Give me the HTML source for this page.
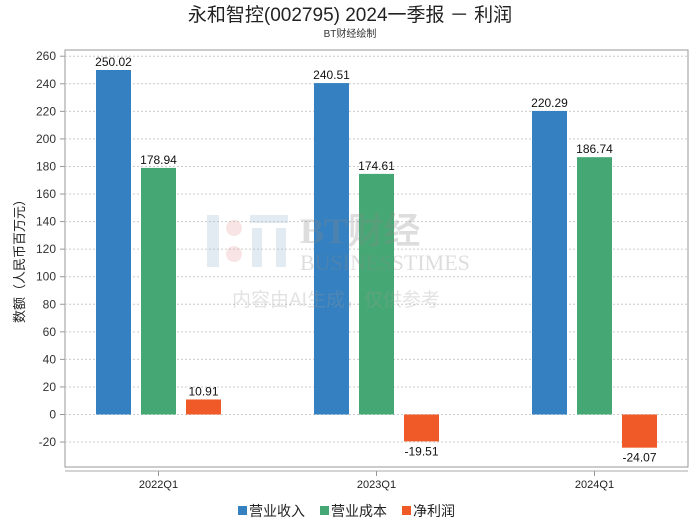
<!DOCTYPE html>
<html><head><meta charset="utf-8"><style>
html,body{margin:0;padding:0;background:#fff;}
svg{display:block;font-family:"Liberation Sans","Noto Sans CJK SC",sans-serif;}
</style></head><body>
<svg id="c" width="700" height="524" viewBox="0 0 700 524">
<text x="350" y="21" text-anchor="middle" font-size="19" fill="#222">永和智控(002795) 2024一季报 － 利润</text>
<text x="350" y="37" text-anchor="middle" font-size="10" fill="#333">BT财经绘制</text>
<rect x="65" y="50" width="623" height="417" fill="none" stroke="#999" stroke-width="1"/>
<line x1="65" y1="471" x2="688" y2="471" stroke="#aaa"/>
<g id="grid"></g><g id="bars"></g>
<g id="wm" opacity="0.28">
<rect x="207" y="215" width="12" height="52" fill="#9ab7d3"/>
<circle cx="234" cy="228" r="8" fill="#e8a0a0"/><circle cx="234" cy="254" r="8" fill="#e8a0a0"/>
<rect x="250" y="215" width="38" height="8" fill="#9ab7d3"/>
<rect x="252" y="228" width="10" height="39" fill="#9ab7d3"/><rect x="276" y="228" width="10" height="39" fill="#9ab7d3"/>
<text x="300" y="243" font-size="36" font-family="Liberation Serif,serif" font-weight="bold" fill="#888">BT财经</text>
<text x="300" y="270" font-size="22" font-family="Liberation Serif,serif" fill="#888">BUSINESSTIMES</text>
<text x="232" y="306" font-size="19" fill="#999">内容由AI生成，仅供参考</text>
</g>
<text transform="translate(24,258) rotate(-90)" text-anchor="middle" font-size="13" fill="#222">数额（人民币百万元）</text>
<g font-size="14" fill="#222">
<rect x="238" y="506" width="9" height="9" fill="#3480c0"/><text x="249" y="516">营业收入</text>
<rect x="320" y="506" width="9" height="9" fill="#45a874"/><text x="331" y="516">营业成本</text>
<rect x="402" y="506" width="9" height="9" fill="#f05a28"/><text x="413" y="516">净利润</text>
</g>
</svg>
<script>
const categories=["2022Q1","2023Q1","2024Q1"];
const revenue=[250.02,240.51,220.29];
const cost=[178.94,174.61,186.74];
const netProfit=[10.91,-19.51,-24.07];
const yTicks=[260,240,220,200,180,160,140,120,100,80,60,40,20,0,-20];
const colors=["#3480c0","#45a874","#f05a28"];
const names=["revenue","cost","net-profit"];
const NS="http://www.w3.org/2000/svg";
function y(v){return 414.5-v*1.378;}
function xc(i){return 158.5+i*218;}
const grid=document.getElementById("grid"),bars=document.getElementById("bars");
function mk(tag,attrs,parent){const e=document.createElementNS(NS,tag);for(const k in attrs)e.setAttribute(k,attrs[k]);parent.appendChild(e);return e;}
yTicks.forEach(t=>{
 const l=mk("line",{x1:65,x2:688,y1:y(t),y2:y(t),stroke:"#ccc","stroke-dasharray":"2,2"},grid);
 
 
 const tk=mk("line",{x1:60,x2:65,y1:y(t),y2:y(t),stroke:"#999"},grid);
 
 
 const tx=mk("text",{x:56,y:y(t)+4,"text-anchor":"end","font-size":"12",fill:"#333"},grid);
 tx.textContent=t;
 
 
});
categories.forEach((c,i)=>{
 const tk=mk("line",{x1:xc(i),x2:xc(i),y1:471,y2:476,stroke:"#999"},grid);
 
 
 const tx=mk("text",{x:xc(i),y:488,"text-anchor":"middle","font-size":"11",fill:"#222"},grid);
 tx.textContent=c;
 
 
 [revenue,cost,netProfit].forEach((s,j)=>{
  const v=s[i],x=xc(i)+(j-1)*45-17.5;
  const top=Math.min(y(v),y(0)),h=Math.abs(y(v)-y(0));
  const r=mk("rect",{x:x,y:top,width:35,height:h,fill:colors[j]},bars);
  
  
  const lt=mk("text",{x:x+17.5,y:v>=0?y(v)-4:y(v)+14,"text-anchor":"middle","font-size":"12",fill:"#111"},bars);
  lt.textContent=v.toFixed(2);
  
  
 });
});
</script>
</body></html>
